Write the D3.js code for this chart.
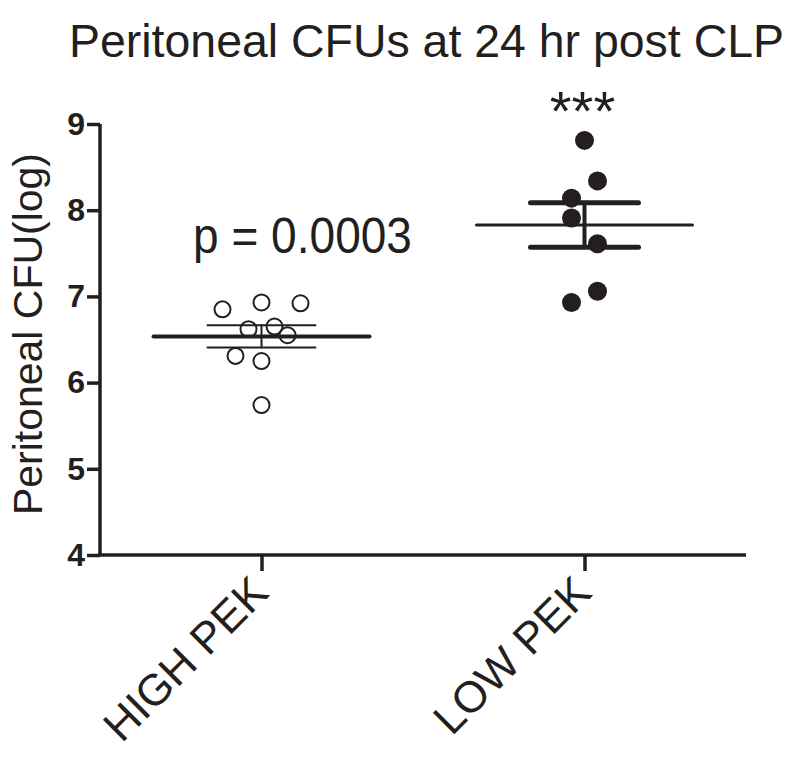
<!DOCTYPE html>
<html><head><meta charset="utf-8">
<script src="https://cdn.jsdelivr.net/npm/d3@7"></script>
<style>
html,body{margin:0;padding:0;background:#fff;}
text{font-family:"Liberation Sans",Arial,Helvetica,sans-serif;fill:#231f20;}
</style></head>
<body>
<svg id="chart" width="800" height="757"></svg>
<script>
// ---- data ----
const categories = ["HIGH PEK", "LOW PEK"];
const highValues = [6.85, 6.93, 6.92, 6.62, 6.65, 6.55, 6.31, 6.25, 5.74];
const highJitter = [-3, 0, 3, -1, 1, 2, -2, 0, 0];
const lowValues = [8.81, 8.34, 8.14, 7.91, 7.61, 7.06, 6.93];
const lowJitter = [0, 1, -1, -1, 1, 1, -1];
const yTicks = [4, 5, 6, 7, 8, 9];
const titleText = "Peritoneal CFUs at 24 hr post CLP";
const yLabelText = "Peritoneal CFU(log)";
const pText = "p = 0.0003";
const starText = "***";

const ink = "#231f20";
const svg = d3.select("#chart");

const x = d3.scalePoint().domain(categories).range([100, 746]).padding(0.5);
const y = d3.scaleLinear().domain([4, 9]).range([555, 124]);
const jitterStep = 13;

function stats(v) {
  const m = d3.mean(v);
  const sem = d3.deviation(v) / Math.sqrt(v.length);
  return {m, sem};
}

// axes
const yAxis = d3.axisLeft(y).tickValues(yTicks).tickSize(13).tickPadding(2).tickFormat(d3.format("d"));
const gy = svg.append("g").attr("transform", "translate(100,0)").call(yAxis);
gy.attr("font-size", null).attr("font-family", null);
gy.select(".domain").attr("stroke", ink).attr("stroke-width", 3.5).attr("d", `M0,${y(9)}V${y(4)}`);
gy.selectAll(".tick line").attr("stroke", ink).attr("stroke-width", 3.5);
gy.selectAll(".tick text").style("font-size", "32px").style("font-weight", "bold").attr("fill", ink);

const xAxis = d3.axisBottom(x).tickSize(16).tickFormat("");
const gx = svg.append("g").attr("transform", `translate(0,${y(4)})`).call(xAxis);
gx.select(".domain").attr("stroke", ink).attr("stroke-width", 3.5).attr("d", `M${100 - 1.75},0H746`);
gx.selectAll(".tick line").attr("stroke", ink).attr("stroke-width", 3.5);

// x tick labels rotated
svg.append("g").selectAll("text").data(categories).join("text")
  .attr("transform", d => `translate(${x(d) + 9},${y(4) + 40}) rotate(-45)`)
  .attr("text-anchor", "end")
  .style("font-size", "44px")
  .text(d => d);

// points
const gp = svg.append("g");
gp.selectAll("circle.hi").data(highValues).join("circle")
  .attr("class", "hi")
  .attr("cx", (d, i) => x(categories[0]) + highJitter[i] * jitterStep)
  .attr("cy", d => y(d))
  .attr("r", 8)
  .attr("fill", "none").attr("stroke", ink).attr("stroke-width", 2);
gp.selectAll("circle.lo").data(lowValues).join("circle")
  .attr("class", "lo")
  .attr("cx", (d, i) => x(categories[1]) + lowJitter[i] * jitterStep)
  .attr("cy", d => y(d))
  .attr("r", 9.5)
  .attr("fill", ink);

// mean & SEM
function drawSummary(cat, vals, meanW, semW, vW) {
  const s = stats(vals);
  const cx = x(cat);
  const g = svg.append("g").attr("stroke", ink).attr("stroke-linecap", "round");
  g.append("line").attr("x1", cx - 108).attr("x2", cx + 108)
    .attr("y1", y(s.m)).attr("y2", y(s.m)).attr("stroke-width", meanW);
  [s.m + s.sem, s.m - s.sem].forEach(v => {
    g.append("line").attr("x1", cx - 54).attr("x2", cx + 54)
      .attr("y1", y(v)).attr("y2", y(v)).attr("stroke-width", semW);
  });
  g.append("line").attr("x1", cx).attr("x2", cx)
    .attr("y1", y(s.m + s.sem)).attr("y2", y(s.m - s.sem)).attr("stroke-width", vW);
}
drawSummary(categories[0], highValues, 4, 2, 2);
drawSummary(categories[1], lowValues, 3, 5, 4);

// title
svg.append("text").attr("x", 69).attr("y", 57)
  .style("font-size", "47px").attr("textLength", 715).attr("lengthAdjust", "spacingAndGlyphs")
  .text(titleText);

// y label
svg.append("text").attr("transform", "translate(42,515) rotate(-90)")
  .style("font-size", "40px").attr("textLength", 362).attr("lengthAdjust", "spacingAndGlyphs")
  .text(yLabelText);

// p value
svg.append("text").attr("x", 193).attr("y", 253)
  .style("font-size", "50px").attr("textLength", 219).attr("lengthAdjust", "spacingAndGlyphs")
  .text(pText);

// stars
svg.append("text").attr("x", x(categories[1]) - 2).attr("y", 130)
  .attr("text-anchor", "middle")
  .style("font-size", "56px")
  .text(starText);
</script>
</body></html>
